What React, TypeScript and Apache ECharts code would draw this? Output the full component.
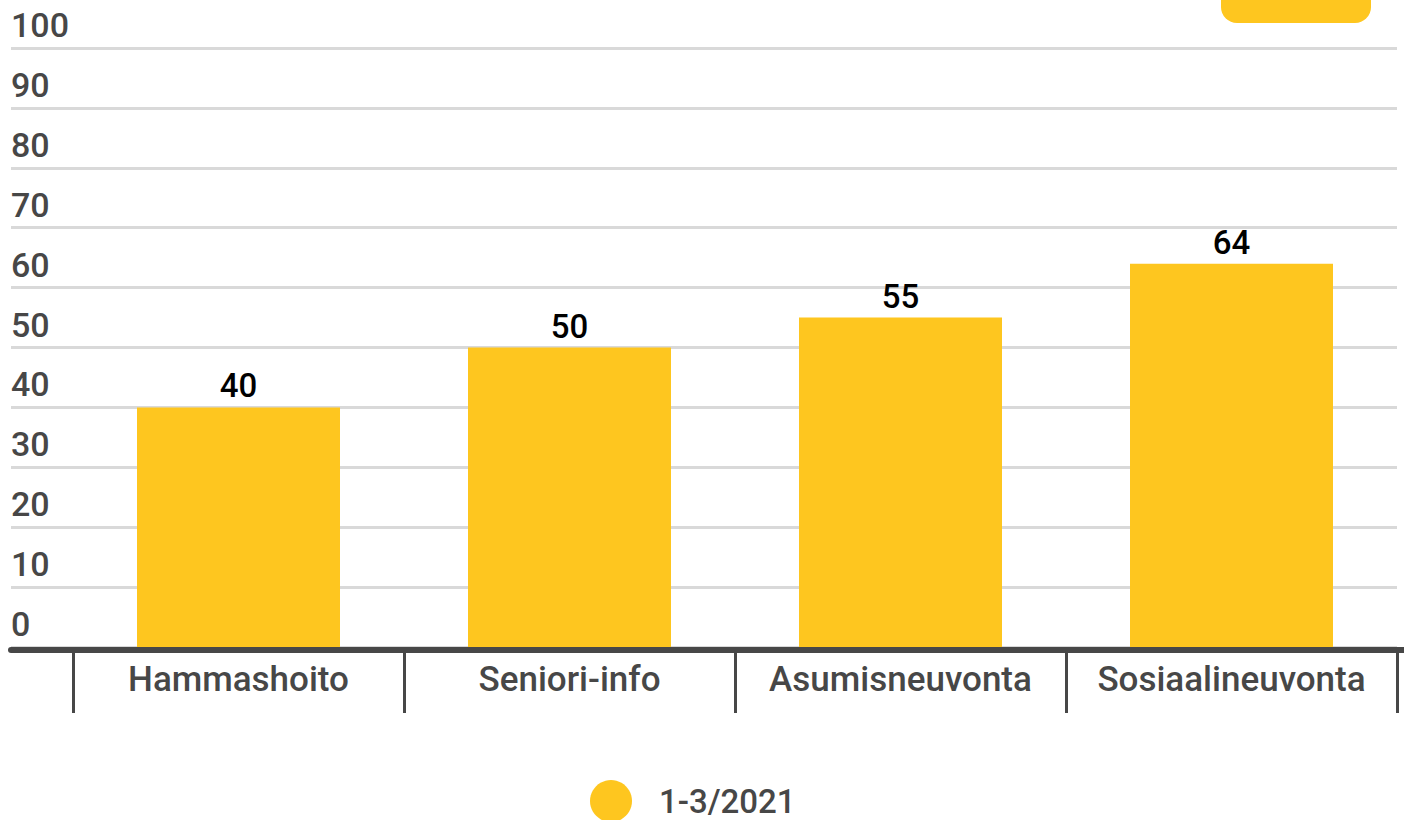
import React, { useEffect, useRef } from "react";
import * as echarts from "echarts";

const categories = ["Hammashoito", "Seniori-info", "Asumisneuvonta", "Sosiaalineuvonta"];
const values = [40, 50, 55, 64];
const seriesName = "1-3/2021";
const yMin = 0;
const yMax = 100;
const yInterval = 10;

const YELLOW = "#FEC61F";
const DARK = "#474747";
const TEXT = "#474747";
const GRIDLINE = "#d9d9d9";
const FONT = "Roboto, 'Noto Sans', sans-serif";

export default function App() {
  const ref = useRef<HTMLDivElement>(null);

  useEffect(() => {
    if (!ref.current) return;
    const chart = echarts.init(ref.current, undefined, { renderer: "svg" });
    const hiddenValueX = (gridIndex: number) => ({ type: "value", gridIndex, min: 0, max: 1, show: false });
    const hiddenValueY = (gridIndex: number) => ({ type: "value", gridIndex, min: yMin, max: yMax, show: false });
    chart.setOption({
      animation: false,
      textStyle: { fontFamily: FONT },
      grid: [
        // split lines and value labels
        { left: 11, right: 7, top: 48, bottom: 173 },
        // bars
        { left: 73, right: 7, top: 48, bottom: 173 },
        // full-width baseline
        { left: 11, right: 0, top: 48, bottom: 170 },
        // category ticks and labels below the baseline
        { left: 73, right: 7, top: 48, bottom: 170 },
      ],
      xAxis: [
        hiddenValueX(0),
        { type: "category", gridIndex: 1, data: categories, show: false },
        {
          type: "value",
          gridIndex: 2,
          min: 0,
          max: 1,
          axisLine: { show: true, lineStyle: { color: DARK, width: 6 } },
          axisTick: { show: false },
          axisLabel: { show: false },
          splitLine: { show: false },
        },
        {
          type: "category",
          gridIndex: 3,
          data: categories,
          axisLine: { show: false },
          axisTick: { show: true, interval: 0, length: 63, lineStyle: { color: DARK, width: 3 } },
          axisLabel: {
            interval: 0,
            color: TEXT,
            fontSize: 35,
            fontWeight: 500,
            fontFamily: FONT,
            margin: 12,
          },
        },
      ],
      yAxis: [
        {
          type: "value",
          gridIndex: 0,
          min: yMin,
          max: yMax,
          interval: yInterval,
          axisLine: { show: false },
          axisTick: { show: false },
          splitLine: { show: true, lineStyle: { color: GRIDLINE, width: 3 } },
          axisLabel: {
            inside: true,
            margin: 0,
            verticalAlign: "bottom",
            padding: [0, 0, 6, 0],
            color: TEXT,
            fontSize: 34,
            fontWeight: 500,
            fontFamily: FONT,
          },
        },
        hiddenValueY(1),
        hiddenValueY(2),
        hiddenValueY(3),
      ],
      legend: {
        data: [seriesName],
        icon: "circle",
        itemWidth: 42,
        itemHeight: 42,
        padding: 0,
        left: 590,
        top: 780,
        textStyle: {
          color: TEXT,
          fontSize: 33,
          fontWeight: 500,
          fontFamily: FONT,
          padding: [0, 0, 0, 22],
        },
      },
      graphic: [
        {
          type: "rect",
          shape: { x: 1221, y: -20, width: 150, height: 43, r: 16 },
          style: { fill: YELLOW },
        },
      ],
      series: [
        {
          name: seriesName,
          type: "bar",
          xAxisIndex: 1,
          yAxisIndex: 1,
          data: values,
          barWidth: 203,
          itemStyle: { color: YELLOW },
          label: {
            show: true,
            position: "top",
            distance: 5,
            color: "#000",
            fontSize: 33,
            fontWeight: 500,
            fontFamily: FONT,
          },
        },
      ],
    });
    return () => chart.dispose();
  }, []);

  return (
    <div
      ref={ref}
      style={{ position: "fixed", left: 0, top: 0, width: 1404, height: 820, background: "#fff" }}
    />
  );
}
